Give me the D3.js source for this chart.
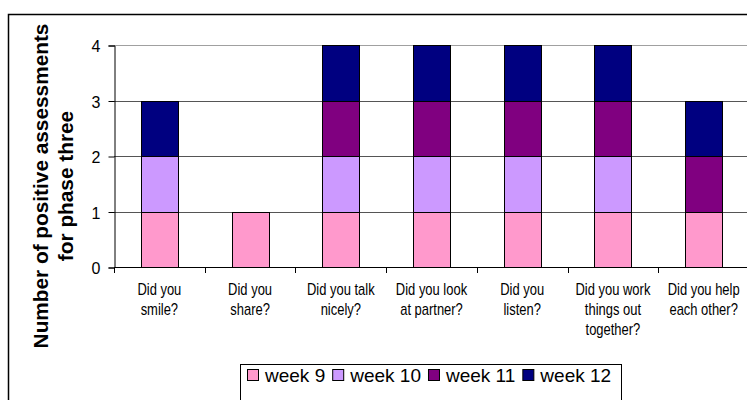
<!DOCTYPE html>
<html>
<head>
<meta charset="utf-8">
<script src="https://cdn.jsdelivr.net/npm/d3@7"></script>
<style>
  html, body { margin: 0; padding: 0; background: #fff; }
  svg { display: block; font-family: Arial, "Liberation Sans", sans-serif; }
</style>
</head>
<body>
<svg id="chart" width="747" height="400"></svg>
<script>
// Questions asked after each session (line breaks mark label wrapping)
const categories = [
  "Did you\nsmile?",
  "Did you\nshare?",
  "Did you talk\nnicely?",
  "Did you look\nat partner?",
  "Did you\nlisten?",
  "Did you work\nthings out\ntogether?",
  "Did you help\neach other?"
];
const seriesNames = ["week 9", "week 10", "week 11", "week 12"];
const week9  = [1, 1, 1, 1, 1, 1, 1];
const week10 = [1, 0, 1, 1, 1, 1, 0];
const week11 = [0, 0, 1, 1, 1, 1, 1];
const week12 = [1, 0, 1, 1, 1, 1, 1];
const yTicks = [0, 1, 2, 3, 4];
const colors = ["#FF99CC", "#CC99FF", "#800080", "#000080"];

const seriesValues = [week9, week10, week11, week12];
const rows = categories.map((c, i) => {
  const r = { cat: c };
  seriesNames.forEach((s, j) => r[s] = seriesValues[j][i]);
  return r;
});

const svg = d3.select("#chart");
const plot = { left: 114, right: 749, top: 45, bottom: 267 };

// outer chart frame
svg.append("rect")
  .attr("x", 8.5).attr("y", 14.5)
  .attr("width", 760).attr("height", 400)
  .attr("fill", "none").attr("stroke", "#000").attr("stroke-width", 1.5);

const x = d3.scaleBand()
  .domain(categories)
  .range([plot.left, plot.right])
  .paddingInner(0.592)
  .paddingOuter(0.296);

const y = d3.scaleLinear().domain([0, 4]).range([plot.bottom, plot.top]);

// gridlines
svg.append("g").selectAll("line")
  .data(yTicks.filter(t => t > 0))
  .join("line")
  .attr("x1", plot.left).attr("x2", plot.right)
  .attr("y1", d => Math.round(y(d)) + 0.5).attr("y2", d => Math.round(y(d)) + 0.5)
  .attr("stroke", d => d === 4 ? "#a0a0a0" : "#555")
  .attr("stroke-width", 1);

// stacked bars
const stacked = d3.stack().keys(seriesNames)(rows);
svg.append("g").selectAll("g")
  .data(stacked)
  .join("g")
  .attr("fill", (d, i) => colors[i])
  .selectAll("rect")
  .data(d => d.filter(s => s[1] > s[0]))
  .join("rect")
  .attr("x", d => Math.round(x(d.data.cat)) + 0.5)
  .attr("y", d => Math.round(y(d[1])) + 0.5)
  .attr("width", Math.round(x.bandwidth()))
  .attr("height", d => Math.round(y(d[0])) - Math.round(y(d[1])))
  .attr("stroke", "#000").attr("stroke-width", 1);

// y axis
const yAxis = d3.axisLeft(y).tickValues(yTicks).tickFormat(d3.format("d"))
  .tickSize(6).tickPadding(8);
const gy = svg.append("g")
  .attr("transform", `translate(${plot.left + 0.5},0.5)`)
  .call(yAxis);
gy.select(".domain").attr("stroke", "#000");
gy.selectAll(".tick line").attr("stroke", "#000");
gy.selectAll(".tick text")
  .attr("font-size", 16).attr("fill", "#000").attr("dy", "0.4em")
  .attr("font-family", "Arial, 'Liberation Sans', sans-serif");

// x axis: baseline with ticks at category boundaries
const step = x.step();
const x0 = plot.left;
const boundaries = d3.range(categories.length + 1).map(i => x0 + i * step);
const gx = svg.append("g");
gx.append("line")
  .attr("x1", plot.left).attr("x2", plot.right)
  .attr("y1", plot.bottom + 0.5).attr("y2", plot.bottom + 0.5)
  .attr("stroke", "#000");
gx.selectAll("line.tk")
  .data(boundaries)
  .join("line").attr("class", "tk")
  .attr("x1", d => Math.round(d) + 0.5).attr("x2", d => Math.round(d) + 0.5)
  .attr("y1", plot.bottom).attr("y2", plot.bottom + 6)
  .attr("stroke", "#000");

// category labels (narrow-set wrapped text)
gx.selectAll("text.cat")
  .data(categories)
  .join("text").attr("class", "cat")
  .attr("text-anchor", "middle")
  .attr("font-size", 16)
  .attr("fill", "#000")
  .attr("transform", d => `translate(${x(d) + x.bandwidth() / 2},0) scale(0.81,1)`)
  .each(function (d) {
    const t = d3.select(this);
    d.split("\n").forEach((line, i) => {
      t.append("tspan").attr("x", 0).attr("y", 295 + i * 20).text(line);
    });
  });

// y axis title
const title = svg.append("text")
  .attr("transform", "translate(48,186) rotate(-90)")
  .attr("text-anchor", "middle")
  .attr("font-size", 20.8).attr("font-weight", "bold").attr("fill", "#000");
title.append("tspan").attr("x", 0).attr("y", 0).text("Number of positive assessments");
title.append("tspan").attr("x", 0).attr("y", 25).text("for phase three");

// legend
const legend = svg.append("g");
legend.append("rect")
  .attr("x", 240.5).attr("y", 364.5)
  .attr("width", 381).attr("height", 60)
  .attr("fill", "#fff").attr("stroke", "#000").attr("stroke-width", 1);
let lx = 247;
seriesNames.forEach((name, i) => {
  legend.append("rect")
    .attr("x", lx + 0.5).attr("y", 369.5)
    .attr("width", 11).attr("height", 11)
    .attr("fill", colors[i]).attr("stroke", "#000");
  const t = legend.append("text")
    .attr("x", lx + 18).attr("y", 382)
    .attr("font-size", 19).attr("fill", "#000")
    .text(name);
  lx = lx + 18 + t.node().getComputedTextLength() + 7;
});
</script>
</body>
</html>
